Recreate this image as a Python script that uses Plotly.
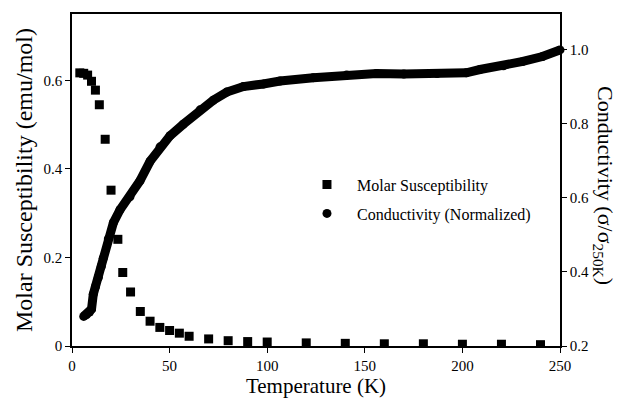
import plotly.graph_objects as go

# Molar susceptibility (emu/mol) vs temperature (K)
temp_chi = [4, 6, 8, 10, 12, 14, 17, 20, 23.5, 26, 30, 35, 40, 45, 50, 55, 60,
            70, 80, 90, 100, 120, 140, 160, 180, 200, 220, 240]
chi = [0.617, 0.616, 0.612, 0.598, 0.578, 0.545, 0.467, 0.352, 0.241, 0.166,
       0.122, 0.078, 0.056, 0.042, 0.035, 0.029, 0.022, 0.016, 0.012, 0.010,
       0.009, 0.007, 0.006, 0.005, 0.005, 0.004, 0.004, 0.003]

# Normalized conductivity sigma/sigma(250K) vs temperature (K)
temp_sigma = [6.0, 7.5, 9.0, 10.0, 10.9, 12.0, 13.5, 15.0, 16.0, 18.6, 21.2,
              24.6, 29.7, 34.8, 40.0, 45.1, 50.2, 57.0, 65.6, 72.4, 79.3, 87.8,
              98.0, 106.6, 123.6, 140.7, 156.0, 170.0, 187.0, 202.0, 209.0,
              221.0, 231.0, 241.0, 250.0]
sigma = [0.280, 0.285, 0.292, 0.300, 0.340, 0.360, 0.385, 0.415, 0.437, 0.489,
         0.533, 0.568, 0.603, 0.646, 0.699, 0.738, 0.768, 0.799, 0.838, 0.864,
         0.886, 0.901, 0.908, 0.916, 0.925, 0.932, 0.936, 0.935, 0.936, 0.938,
         0.947, 0.957, 0.969, 0.982, 1.000]

x_ticks = [0, 50, 100, 150, 200, 250]
y_ticks = [0, 0.2, 0.4, 0.6]
y_ticktext = ["0", "0.2", "0.4", "0.6"]
y2_ticks = [0.2, 0.4, 0.6, 0.8, 1.0]
y2_ticktext = ["0.2", "0.4", "0.6", "0.8", "1.0"]

fig = go.Figure()
fig.add_trace(go.Scatter(
    x=temp_chi, y=chi, mode="markers", name="Molar Susceptibility",
    legendgroup="a",
    marker=dict(symbol="square", size=9, color="black"),
))
fig.add_trace(go.Scatter(
    x=temp_sigma, y=sigma, mode="lines", yaxis="y2", showlegend=False,
    line=dict(color="black", width=9), hoverinfo="skip", cliponaxis=False,
))
fig.add_trace(go.Scatter(
    x=temp_sigma, y=sigma, mode="markers", yaxis="y2",
    name="Conductivity (Normalized)", legendgroup="b", cliponaxis=False,
    marker=dict(symbol="circle", size=9, color="black"),
))

axis_common = dict(
    showline=True, linecolor="black", linewidth=1.5, ticks="outside",
    ticklen=5, tickwidth=1.2, tickcolor="black", showgrid=False,
    zeroline=False, tickfont=dict(size=15, color="black"),
)

fig.update_layout(
    width=620, height=404,
    margin=dict(l=72, r=60, t=12, b=50),
    paper_bgcolor="white", plot_bgcolor="white",
    font=dict(family="Liberation Serif", color="black"),
    xaxis=dict(range=[0, 250], tickvals=x_ticks, mirror=True,
               title=dict(text="Temperature (K)", font=dict(size=21), standoff=4),
               **axis_common),
    yaxis=dict(range=[0, 0.75], tickvals=y_ticks, ticktext=y_ticktext,
               title=dict(text="Molar Susceptibility (emu/mol)", font=dict(size=24), standoff=4),
               **axis_common),
    yaxis2=dict(range=[0.2, 1.097], tickvals=y2_ticks, ticktext=y2_ticktext,
                overlaying="y", side="right", **axis_common),
    legend=dict(x=0.461, y=0.537, xanchor="left", yanchor="top",
                font=dict(size=16), itemwidth=50, tracegroupgap=5,
                bgcolor="rgba(0,0,0,0)"),
    showlegend=True,
    annotations=[dict(
        text="Conductivity (σ/σ<sub>250K</sub>)", textangle=90,
        xref="paper", yref="paper", x=1.0902, y=0.485,
        xanchor="center", yanchor="middle", showarrow=False,
        font=dict(size=22, color="black"),
    )],
)

fig.write_html("out.html")
